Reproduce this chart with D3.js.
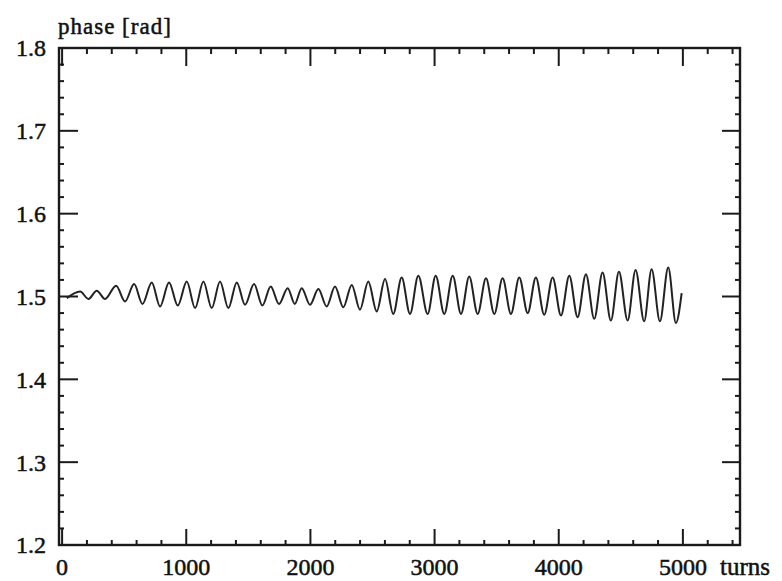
<!DOCTYPE html>
<html>
<head>
<meta charset="utf-8">
<script src="https://cdn.jsdelivr.net/npm/d3@7"></script>
<style>
  body { margin: 0; background: #fff; }
  svg text { font-family: "Liberation Serif", "DejaVu Serif", serif; fill: #111; stroke: #111; stroke-width: 0.5px; }
</style>
</head>
<body>
<svg id="chart" width="782" height="581"></svg>
<script>
// turn number at each extreme of the oscillation
const turns = [
  38, 145, 212, 279, 346, 435, 507, 580, 647, 722, 789, 861, 932, 1004, 1071,
  1138, 1205, 1272, 1339, 1407, 1473, 1546, 1613, 1680, 1747, 1817, 1874, 1930,
  1997, 2064, 2131, 2198, 2265, 2333, 2399, 2466, 2534, 2601, 2667, 2735, 2802,
  2869, 2944, 3009, 3078, 3146, 3213, 3279, 3347, 3414, 3481, 3548, 3615, 3682,
  3750, 3816, 3883, 3951, 4018, 4085, 4152, 4219, 4286, 4353, 4420, 4485, 4555,
  4619, 4688, 4748, 4815, 4882, 4944, 4990
];
// phase in rad at those turns
const phase = [
  1.498, 1.506, 1.497, 1.507, 1.497, 1.513, 1.494, 1.515, 1.491, 1.517, 1.488,
  1.517, 1.489, 1.518, 1.486, 1.518, 1.486, 1.518, 1.486, 1.517, 1.490, 1.515,
  1.489, 1.512, 1.491, 1.510, 1.491, 1.510, 1.490, 1.509, 1.488, 1.512, 1.487,
  1.514, 1.484, 1.518, 1.482, 1.521, 1.479, 1.523, 1.479, 1.525, 1.479, 1.525,
  1.479, 1.525, 1.479, 1.524, 1.479, 1.522, 1.479, 1.522, 1.479, 1.523, 1.480,
  1.523, 1.478, 1.523, 1.477, 1.525, 1.475, 1.527, 1.473, 1.529, 1.471, 1.530,
  1.471, 1.532, 1.470, 1.533, 1.470, 1.535, 1.468, 1.504
];

const xTicks = [0, 1000, 2000, 3000, 4000, 5000];
const yTicks = [1.2, 1.3, 1.4, 1.5, 1.6, 1.7, 1.8];

const svg = d3.select("#chart");

// frame runs a little past 0 and 5000
const x = d3.scaleLinear().domain([-25, 5460]).range([59, 740]);
const y = d3.scaleLinear().domain([1.2, 1.8]).range([545, 48]);

const xMinor = d3.range(200, 5460, 200).filter((d) => d % 1000 !== 0);
const yMinor = d3.range(1.22, 1.8, 0.02).filter((d) => Math.abs(d * 10 - Math.round(d * 10)) > 0.01);

const ink = "#1a1a1a";

// Tick marks, pointing inward on all four sides
const ticks = svg.append("g").attr("stroke", ink);

ticks.selectAll(".xb").data(xTicks).join("line")
  .attr("x1", (d) => x(d)).attr("x2", (d) => x(d))
  .attr("y1", y(1.2)).attr("y2", y(1.2) - 16)
  .attr("stroke-width", 2);
ticks.selectAll(".xt").data(xTicks).join("line")
  .attr("x1", (d) => x(d)).attr("x2", (d) => x(d))
  .attr("y1", y(1.8)).attr("y2", y(1.8) + 18)
  .attr("stroke-width", 2);
ticks.selectAll(".xbm").data(xMinor).join("line")
  .attr("x1", (d) => x(d)).attr("x2", (d) => x(d))
  .attr("y1", y(1.2)).attr("y2", y(1.2) - 5)
  .attr("stroke-width", 2);
ticks.selectAll(".xtm").data(xMinor).join("line")
  .attr("x1", (d) => x(d)).attr("x2", (d) => x(d))
  .attr("y1", y(1.8)).attr("y2", y(1.8) + 6)
  .attr("stroke-width", 2);

ticks.selectAll(".yl").data(yTicks).join("line")
  .attr("x1", x(-25)).attr("x2", x(-25) + 19)
  .attr("y1", (d) => y(d)).attr("y2", (d) => y(d))
  .attr("stroke-width", 2);
ticks.selectAll(".yr").data(yTicks).join("line")
  .attr("x1", x(5460)).attr("x2", x(5460) - 18)
  .attr("y1", (d) => y(d)).attr("y2", (d) => y(d))
  .attr("stroke-width", 2);
ticks.selectAll(".ylm").data(yMinor).join("line")
  .attr("x1", x(-25)).attr("x2", x(-25) + 5)
  .attr("y1", (d) => y(d)).attr("y2", (d) => y(d))
  .attr("stroke-width", 2);
ticks.selectAll(".yrm").data(yMinor).join("line")
  .attr("x1", x(5460)).attr("x2", x(5460) - 5)
  .attr("y1", (d) => y(d)).attr("y2", (d) => y(d))
  .attr("stroke-width", 2);

// Frame
svg.append("rect")
  .attr("x", x(-25)).attr("y", y(1.8))
  .attr("width", x(5460) - x(-25)).attr("height", y(1.2) - y(1.8))
  .attr("fill", "none").attr("stroke", ink).attr("stroke-width", 2.4);

// Tick labels
svg.append("g").selectAll("text").data(yTicks).join("text")
  .attr("x", 46).attr("y", (d) => y(d)).attr("dy", "0.35em")
  .attr("text-anchor", "end").style("font-size", "24px")
  .text((d) => d.toFixed(1));

svg.append("g").selectAll("text").data(xTicks).join("text")
  .attr("x", (d) => x(d)).attr("y", 575)
  .attr("text-anchor", "middle").style("font-size", "24px")
  .text((d) => d);

// Axis titles
svg.append("text").attr("x", 58).attr("y", 34)
  .style("font-size", "23px").style("letter-spacing", "1px")
  .text("phase [rad]");
svg.append("text").attr("x", 720).attr("y", 575)
  .style("font-size", "25px")
  .text("turns");

// Phase oscillation
const line = d3.line()
  .x((d, i) => x(turns[i]))
  .y((d) => y(d))
  .curve(d3.curveMonotoneX);

svg.append("path")
  .datum(phase)
  .attr("fill", "none")
  .attr("stroke", "#222")
  .attr("stroke-width", 2)
  .attr("d", line);
</script>
</body>
</html>
